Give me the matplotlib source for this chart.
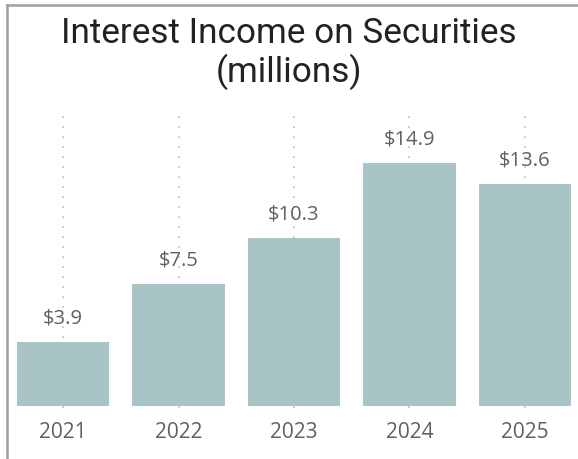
import matplotlib
matplotlib.use("Agg")
import matplotlib.pyplot as plt
from matplotlib.lines import Line2D

years = ["2021", "2022", "2023", "2024", "2025"]
income = [3.9, 7.5, 10.3, 14.9, 13.6]
value_labels = ["$3.9", "$7.5", "$10.3", "$14.9", "$13.6"]

W, H = 578, 460
fig = plt.figure(figsize=(W / 100, H / 100), dpi=100)
fig.patch.set_facecolor("white")

# plot area in pixel coordinates
left_px, right_px = 17, 571
top_px, bottom_px = 113, 407
ax = fig.add_axes([left_px / W, 1 - bottom_px / H,
                   (right_px - left_px) / W, (bottom_px - top_px) / H])

x = list(range(len(years)))
ax.set_xlim(-0.4, len(years) - 0.6)
ax.set_ylim(0, 18)

# dotted vertical guides behind the bars
for xi in x:
    ax.plot([xi, xi], [-0.1, 18], linestyle=(0, (1, 5)), color="#bdbdbd",
            linewidth=1.2, zorder=1, clip_on=False)

ax.bar(x, income, width=0.8, color="#a9c4c5", zorder=2)

for xi, v, lab in zip(x, income, value_labels):
    ax.annotate(lab, (xi, v), xytext=(0, 17.5), textcoords="offset points",
                ha="center", va="center", fontsize=14.5, color="#606060",
                family="Open Sans")

ax.set_xticks(x)
ax.set_xticklabels(years, fontsize=15, color="#606060", family="Open Sans")
ax.tick_params(axis="x", length=0, pad=11)
ax.set_yticks([])
for s in ax.spines.values():
    s.set_visible(False)
ax.set_facecolor("none")

fig.text(0.5, 1 - 43 / H, "Interest Income on Securities",
         ha="center", va="baseline", fontsize=25.3, color="#222222",
         family="Roboto")
fig.text(0.5, 1 - 81.5 / H, "(millions)",
         ha="center", va="baseline", fontsize=25.3, color="#222222",
         family="Roboto")

# panel frame (left and top edges)
fig.add_artist(Line2D([6.5 / W, 6.5 / W], [0, 1 - 6 / H], transform=fig.transFigure,
                      color="#a0a0a0", linewidth=1.8))
fig.add_artist(Line2D([6.5 / W, 1], [1 - 6 / H, 1 - 6 / H], transform=fig.transFigure,
                      color="#a0a0a0", linewidth=1.8))

fig.savefig("out.png", dpi=100)
